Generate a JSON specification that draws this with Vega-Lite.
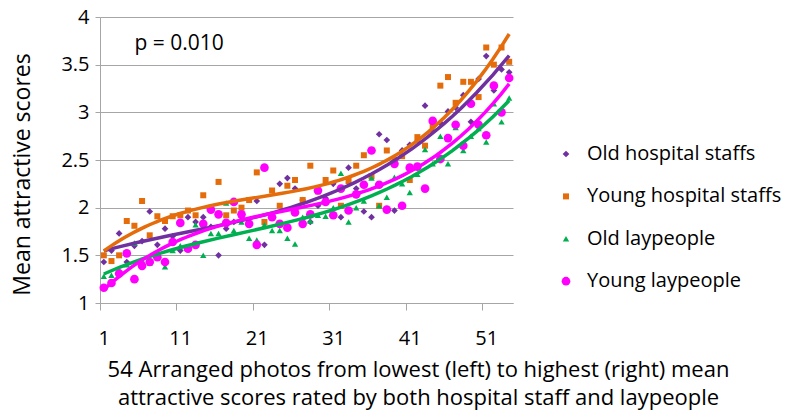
{
  "$schema": "https://vega.github.io/schema/vega-lite/v6.json",
  "width": 413,
  "height": 286,
  "autosize": {"type": "none"},
  "padding": {"left": 100, "top": 17, "right": 277, "bottom": 111},
  "background": "white",
  "config": {
    "font": "Open Sans",
    "view": {"stroke": null},
    "axis": {
      "domainColor": "#A6A6A6",
      "tickColor": "#A6A6A6",
      "gridColor": "#A6A6A6",
      "labelColor": "#000000",
      "titleColor": "#000000",
      "titleFontWeight": "normal",
      "labelFont": "Open Sans",
      "titleFont": "Open Sans"
    },
    "legend": {"labelFont": "Open Sans"}
  },
  "data": {
    "values": [
      {"x":1,"s":"Old hospital staffs","y":1.43},{"x":2,"s":"Old hospital staffs","y":1.55},{"x":3,"s":"Old hospital staffs","y":1.73},{"x":4,"s":"Old hospital staffs","y":1.43},{"x":5,"s":"Old hospital staffs","y":1.60},{"x":6,"s":"Old hospital staffs","y":1.65},{"x":7,"s":"Old hospital staffs","y":1.96},{"x":8,"s":"Old hospital staffs","y":1.61},{"x":9,"s":"Old hospital staffs","y":1.78},{"x":10,"s":"Old hospital staffs","y":1.70},
      {"x":11,"s":"Old hospital staffs","y":1.55},{"x":12,"s":"Old hospital staffs","y":1.90},{"x":13,"s":"Old hospital staffs","y":1.85},{"x":14,"s":"Old hospital staffs","y":1.90},{"x":15,"s":"Old hospital staffs","y":1.80},{"x":16,"s":"Old hospital staffs","y":1.50},{"x":17,"s":"Old hospital staffs","y":1.78},{"x":18,"s":"Old hospital staffs","y":1.85},{"x":19,"s":"Old hospital staffs","y":1.90},{"x":20,"s":"Old hospital staffs","y":1.82},
      {"x":21,"s":"Old hospital staffs","y":2.07},{"x":22,"s":"Old hospital staffs","y":1.61},{"x":23,"s":"Old hospital staffs","y":1.90},{"x":24,"s":"Old hospital staffs","y":2.25},{"x":25,"s":"Old hospital staffs","y":2.31},{"x":26,"s":"Old hospital staffs","y":2.20},{"x":27,"s":"Old hospital staffs","y":2.08},{"x":28,"s":"Old hospital staffs","y":1.85},{"x":29,"s":"Old hospital staffs","y":2.02},{"x":30,"s":"Old hospital staffs","y":2.10},
      {"x":31,"s":"Old hospital staffs","y":2.25},{"x":32,"s":"Old hospital staffs","y":1.90},{"x":33,"s":"Old hospital staffs","y":2.42},{"x":34,"s":"Old hospital staffs","y":2.20},{"x":35,"s":"Old hospital staffs","y":1.96},{"x":36,"s":"Old hospital staffs","y":1.90},{"x":37,"s":"Old hospital staffs","y":2.77},{"x":38,"s":"Old hospital staffs","y":2.71},{"x":39,"s":"Old hospital staffs","y":1.97},{"x":40,"s":"Old hospital staffs","y":2.60},
      {"x":41,"s":"Old hospital staffs","y":2.66},{"x":42,"s":"Old hospital staffs","y":2.70},{"x":43,"s":"Old hospital staffs","y":3.07},{"x":44,"s":"Old hospital staffs","y":2.80},{"x":45,"s":"Old hospital staffs","y":2.89},{"x":46,"s":"Old hospital staffs","y":3.01},{"x":47,"s":"Old hospital staffs","y":3.05},{"x":48,"s":"Old hospital staffs","y":3.18},{"x":49,"s":"Old hospital staffs","y":2.90},{"x":50,"s":"Old hospital staffs","y":3.35},
      {"x":51,"s":"Old hospital staffs","y":3.59},{"x":52,"s":"Old hospital staffs","y":3.23},{"x":53,"s":"Old hospital staffs","y":3.45},{"x":54,"s":"Old hospital staffs","y":3.42},
      {"x":1,"s":"Young hospital staffs","y":1.50},{"x":2,"s":"Young hospital staffs","y":1.44},{"x":3,"s":"Young hospital staffs","y":1.50},{"x":4,"s":"Young hospital staffs","y":1.86},{"x":5,"s":"Young hospital staffs","y":1.81},{"x":6,"s":"Young hospital staffs","y":2.07},{"x":7,"s":"Young hospital staffs","y":1.71},{"x":8,"s":"Young hospital staffs","y":1.91},{"x":9,"s":"Young hospital staffs","y":1.86},{"x":10,"s":"Young hospital staffs","y":1.91},
      {"x":11,"s":"Young hospital staffs","y":1.92},{"x":12,"s":"Young hospital staffs","y":1.97},{"x":13,"s":"Young hospital staffs","y":1.92},{"x":14,"s":"Young hospital staffs","y":2.13},{"x":15,"s":"Young hospital staffs","y":1.98},{"x":16,"s":"Young hospital staffs","y":2.27},{"x":17,"s":"Young hospital staffs","y":1.92},{"x":18,"s":"Young hospital staffs","y":1.97},{"x":19,"s":"Young hospital staffs","y":2.00},{"x":20,"s":"Young hospital staffs","y":2.08},
      {"x":21,"s":"Young hospital staffs","y":2.37},{"x":22,"s":"Young hospital staffs","y":1.85},{"x":23,"s":"Young hospital staffs","y":2.18},{"x":24,"s":"Young hospital staffs","y":2.02},{"x":25,"s":"Young hospital staffs","y":2.23},{"x":26,"s":"Young hospital staffs","y":2.29},{"x":27,"s":"Young hospital staffs","y":2.08},{"x":28,"s":"Young hospital staffs","y":2.44},{"x":29,"s":"Young hospital staffs","y":2.17},{"x":30,"s":"Young hospital staffs","y":2.29},
      {"x":31,"s":"Young hospital staffs","y":2.39},{"x":32,"s":"Young hospital staffs","y":2.02},{"x":33,"s":"Young hospital staffs","y":2.28},{"x":34,"s":"Young hospital staffs","y":2.44},{"x":35,"s":"Young hospital staffs","y":2.55},{"x":36,"s":"Young hospital staffs","y":2.33},{"x":37,"s":"Young hospital staffs","y":2.02},{"x":38,"s":"Young hospital staffs","y":2.60},{"x":39,"s":"Young hospital staffs","y":2.50},{"x":40,"s":"Young hospital staffs","y":2.54},
      {"x":41,"s":"Young hospital staffs","y":2.29},{"x":42,"s":"Young hospital staffs","y":2.74},{"x":43,"s":"Young hospital staffs","y":2.65},{"x":44,"s":"Young hospital staffs","y":2.86},{"x":45,"s":"Young hospital staffs","y":3.28},{"x":46,"s":"Young hospital staffs","y":3.37},{"x":47,"s":"Young hospital staffs","y":3.10},{"x":48,"s":"Young hospital staffs","y":3.32},{"x":49,"s":"Young hospital staffs","y":3.32},{"x":50,"s":"Young hospital staffs","y":3.16},
      {"x":51,"s":"Young hospital staffs","y":3.68},{"x":52,"s":"Young hospital staffs","y":3.50},{"x":53,"s":"Young hospital staffs","y":3.68},{"x":54,"s":"Young hospital staffs","y":3.53},
      {"x":1,"s":"Old laypeople","y":1.28},{"x":2,"s":"Old laypeople","y":1.29},{"x":3,"s":"Old laypeople","y":1.33},{"x":4,"s":"Old laypeople","y":1.40},{"x":5,"s":"Old laypeople","y":1.63},{"x":6,"s":"Old laypeople","y":1.45},{"x":7,"s":"Old laypeople","y":1.42},{"x":8,"s":"Old laypeople","y":1.50},{"x":9,"s":"Old laypeople","y":1.38},{"x":10,"s":"Old laypeople","y":1.55},
      {"x":11,"s":"Old laypeople","y":1.60},{"x":12,"s":"Old laypeople","y":1.58},{"x":13,"s":"Old laypeople","y":1.82},{"x":14,"s":"Old laypeople","y":1.50},{"x":15,"s":"Old laypeople","y":1.73},{"x":16,"s":"Old laypeople","y":1.73},{"x":17,"s":"Old laypeople","y":2.05},{"x":18,"s":"Old laypeople","y":1.76},{"x":19,"s":"Old laypeople","y":1.85},{"x":20,"s":"Old laypeople","y":1.68},
      {"x":21,"s":"Old laypeople","y":1.66},{"x":22,"s":"Old laypeople","y":1.82},{"x":23,"s":"Old laypeople","y":1.76},{"x":24,"s":"Old laypeople","y":1.76},{"x":25,"s":"Old laypeople","y":1.68},{"x":26,"s":"Old laypeople","y":1.62},{"x":27,"s":"Old laypeople","y":1.90},{"x":28,"s":"Old laypeople","y":1.86},{"x":29,"s":"Old laypeople","y":1.92},{"x":30,"s":"Old laypeople","y":1.91},
      {"x":31,"s":"Old laypeople","y":2.00},{"x":32,"s":"Old laypeople","y":2.36},{"x":33,"s":"Old laypeople","y":1.85},{"x":34,"s":"Old laypeople","y":2.00},{"x":35,"s":"Old laypeople","y":2.07},{"x":36,"s":"Old laypeople","y":2.31},{"x":37,"s":"Old laypeople","y":2.02},{"x":38,"s":"Old laypeople","y":2.11},{"x":39,"s":"Old laypeople","y":2.32},{"x":40,"s":"Old laypeople","y":2.25},
      {"x":41,"s":"Old laypeople","y":2.16},{"x":42,"s":"Old laypeople","y":2.35},{"x":43,"s":"Old laypeople","y":2.61},{"x":44,"s":"Old laypeople","y":2.46},{"x":45,"s":"Old laypeople","y":2.75},{"x":46,"s":"Old laypeople","y":2.46},{"x":47,"s":"Old laypeople","y":2.84},{"x":48,"s":"Old laypeople","y":2.60},{"x":49,"s":"Old laypeople","y":2.75},{"x":50,"s":"Old laypeople","y":2.83},
      {"x":51,"s":"Old laypeople","y":2.69},{"x":52,"s":"Old laypeople","y":3.09},{"x":53,"s":"Old laypeople","y":2.90},{"x":54,"s":"Old laypeople","y":3.15},
      {"x":1,"s":"Young laypeople","y":1.16},{"x":2,"s":"Young laypeople","y":1.21},{"x":3,"s":"Young laypeople","y":1.31},{"x":4,"s":"Young laypeople","y":1.52},{"x":5,"s":"Young laypeople","y":1.25},{"x":6,"s":"Young laypeople","y":1.39},{"x":7,"s":"Young laypeople","y":1.43},{"x":8,"s":"Young laypeople","y":1.48},{"x":9,"s":"Young laypeople","y":1.43},{"x":10,"s":"Young laypeople","y":1.64},
      {"x":11,"s":"Young laypeople","y":1.84},{"x":12,"s":"Young laypeople","y":1.57},{"x":13,"s":"Young laypeople","y":1.61},{"x":14,"s":"Young laypeople","y":1.83},{"x":15,"s":"Young laypeople","y":1.98},{"x":16,"s":"Young laypeople","y":1.93},{"x":17,"s":"Young laypeople","y":1.84},{"x":18,"s":"Young laypeople","y":2.06},{"x":19,"s":"Young laypeople","y":1.93},{"x":20,"s":"Young laypeople","y":1.83},
      {"x":21,"s":"Young laypeople","y":1.61},{"x":22,"s":"Young laypeople","y":2.42},{"x":23,"s":"Young laypeople","y":1.90},{"x":24,"s":"Young laypeople","y":1.83},{"x":25,"s":"Young laypeople","y":1.79},{"x":26,"s":"Young laypeople","y":1.95},{"x":27,"s":"Young laypeople","y":1.83},{"x":28,"s":"Young laypeople","y":1.93},{"x":29,"s":"Young laypeople","y":2.18},{"x":30,"s":"Young laypeople","y":2.06},
      {"x":31,"s":"Young laypeople","y":1.92},{"x":32,"s":"Young laypeople","y":2.20},{"x":33,"s":"Young laypeople","y":1.97},{"x":34,"s":"Young laypeople","y":2.14},{"x":35,"s":"Young laypeople","y":2.24},{"x":36,"s":"Young laypeople","y":2.60},{"x":37,"s":"Young laypeople","y":2.24},{"x":38,"s":"Young laypeople","y":1.98},{"x":39,"s":"Young laypeople","y":2.46},{"x":40,"s":"Young laypeople","y":2.02},
      {"x":41,"s":"Young laypeople","y":2.42},{"x":42,"s":"Young laypeople","y":2.43},{"x":43,"s":"Young laypeople","y":2.20},{"x":44,"s":"Young laypeople","y":2.91},{"x":45,"s":"Young laypeople","y":2.51},{"x":46,"s":"Young laypeople","y":2.73},{"x":47,"s":"Young laypeople","y":2.87},{"x":48,"s":"Young laypeople","y":2.65},{"x":49,"s":"Young laypeople","y":3.09},{"x":50,"s":"Young laypeople","y":2.87},
      {"x":51,"s":"Young laypeople","y":2.76},{"x":52,"s":"Young laypeople","y":3.28},{"x":53,"s":"Young laypeople","y":3.00},{"x":54,"s":"Young laypeople","y":3.36}
    ]
  },
  "layer": [
    {
      "mark": {"type": "point", "filled": true, "opacity": 1, "strokeWidth": 0},
      "encoding": {
        "x": {
          "field": "x", "type": "quantitative",
          "scale": {"domain": [0.5, 54.5], "nice": false, "zero": false},
          "axis": {
            "values": [1, 11, 21, 31, 41, 51],
            "grid": false,
            "tickSize": 7,
            "tickOffset": -3.82,
            "labelOffset": 3.82,
            "labelFlush": false,
            "labelFontSize": 20,
            "labelPadding": 18,
            "title": ["54 Arranged photos from lowest (left) to highest (right) mean", "attractive scores rated by both hospital staff and laypeople"],
            "titleFontSize": 22,
            "titleAlign": "center",
            "titleBaseline": "alphabetic",
            "titleX": 318,
            "titleY": 73,
            "titleLineHeight": 28
          }
        },
        "y": {
          "field": "y", "type": "quantitative",
          "scale": {"domain": [1, 4], "nice": false, "zero": false},
          "axis": {
            "values": [1, 1.5, 2, 2.5, 3, 3.5, 4],
            "format": "~g",
            "grid": true,
            "tickSize": 5,
            "labelFlush": false,
            "labelFontSize": 20,
            "labelPadding": 6,
            "title": "Mean attractive scores",
            "titleFontSize": 23,
            "titleAngle": -90,
            "titleAlign": "center",
            "titleBaseline": "middle",
            "titleX": -78,
            "titleY": 157
          }
        },
        "color": {
          "field": "s", "type": "nominal",
          "scale": {"domain": ["Old hospital staffs", "Young hospital staffs", "Old laypeople", "Young laypeople"], "range": ["#7030A0", "#E46C0A", "#00B050", "#FF00FF"]},
          "legend": {"title": null, "orient": "none", "legendX": 456, "legendY": 127, "padding": 0, "labelFontSize": 20, "labelLimit": 0, "labelColor": "#000000", "symbolSize": 30, "rowPadding": 22.4, "labelOffset": 11, "symbolStrokeWidth": 0}
        },
        "shape": {
          "field": "s", "type": "nominal",
          "scale": {"domain": ["Old hospital staffs", "Young hospital staffs", "Old laypeople", "Young laypeople"], "range": ["diamond", "square", "triangle-up", "circle"]},
          "legend": {"title": null, "orient": "none", "legendX": 456, "legendY": 127, "padding": 0, "labelFontSize": 20, "labelLimit": 0, "labelColor": "#000000", "symbolSize": 30, "rowPadding": 22.4, "labelOffset": 11, "symbolStrokeWidth": 0}
        },
        "size": {
          "field": "s", "type": "nominal",
          "scale": {"type": "ordinal", "domain": ["Old hospital staffs", "Young hospital staffs", "Old laypeople", "Young laypeople"], "range": [45, 36, 40, 75]},
          "legend": null
        }
      }
    },
    {
      "transform": [{"regression": "y", "on": "x", "groupby": ["s"], "method": "poly", "order": 3, "extent": [1, 54]}],
      "mark": {"type": "line", "strokeWidth": 3.5},
      "encoding": {
        "x": {"field": "x", "type": "quantitative"},
        "y": {"field": "y", "type": "quantitative"},
        "color": {"field": "s", "type": "nominal", "legend": null}
      }
    },
    {
      "data": {"values": [{"label": "p = 0.010"}]},
      "mark": {"type": "text", "align": "left", "baseline": "middle", "fontSize": 21, "font": "Open Sans", "color": "#000000"},
      "encoding": {
        "x": {"datum": 5.0, "type": "quantitative"},
        "y": {"datum": 3.72, "type": "quantitative"},
        "text": {"field": "label"}
      }
    }
  ]
}
